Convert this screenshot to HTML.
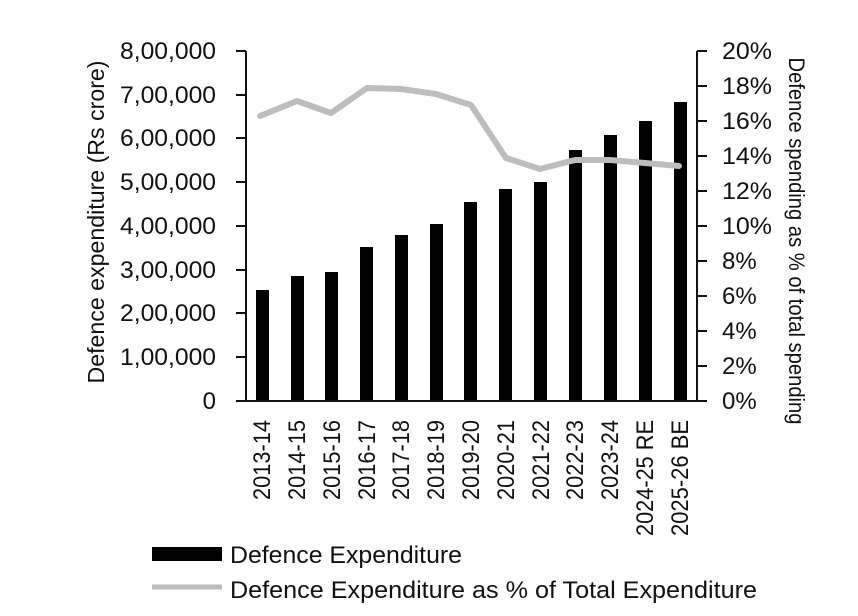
<!DOCTYPE html>
<html><head><meta charset="utf-8"><style>
html,body{margin:0;padding:0;background:#fff;}
svg{display:block;font-family:"Liberation Sans",Arial,sans-serif;fill:#111;}
</style></head><body>
<svg width="858" height="616" viewBox="0 0 858 616" xmlns="http://www.w3.org/2000/svg">
<rect width="858" height="616" fill="#fff"/>
<g fill="#000">
<rect x="256" y="290" width="13" height="111"/>
<rect x="291" y="276" width="13" height="125"/>
<rect x="325" y="272" width="13" height="129"/>
<rect x="360" y="247" width="13" height="154"/>
<rect x="395" y="235" width="13" height="166"/>
<rect x="430" y="224" width="13" height="177"/>
<rect x="464" y="202" width="13" height="199"/>
<rect x="499" y="189" width="13" height="212"/>
<rect x="534" y="182" width="13" height="219"/>
<rect x="569" y="150" width="13" height="251"/>
<rect x="604" y="135" width="13" height="266"/>
<rect x="639" y="121" width="13" height="280"/>
<rect x="674" y="102" width="13" height="299"/>
</g>
<polyline fill="none" stroke="#bdbdbd" stroke-width="6" stroke-linejoin="round" stroke-linecap="round"
points="260,116 297,101 331,113 367,88 401,89 436,94 471,105 506,158 540,169 575,160 610,160 645,163 679,166"/>
<g stroke="#111" stroke-width="2" fill="none">
<path d="M246,51V401H697V51"/>
<path d="M236,51H246M236,95H246M236,138H246M236,182H246M236,226H246M236,270H246M236,313H246M236,357H246M236,401H246"/>
<path d="M697,51H707M697,86H707M697,121H707M697,156H707M697,191H707M697,226H707M697,261H707M697,296H707M697,331H707M697,366H707M697,401H707"/>
</g>
<g font-size="24" text-anchor="end">
<text x="216" y="59" textLength="96" lengthAdjust="spacingAndGlyphs">8,00,000</text>
<text x="216" y="103" textLength="96" lengthAdjust="spacingAndGlyphs">7,00,000</text>
<text x="216" y="146" textLength="96" lengthAdjust="spacingAndGlyphs">6,00,000</text>
<text x="216" y="190" textLength="96" lengthAdjust="spacingAndGlyphs">5,00,000</text>
<text x="216" y="234" textLength="96" lengthAdjust="spacingAndGlyphs">4,00,000</text>
<text x="216" y="278" textLength="96" lengthAdjust="spacingAndGlyphs">3,00,000</text>
<text x="216" y="321" textLength="96" lengthAdjust="spacingAndGlyphs">2,00,000</text>
<text x="216" y="365" textLength="96" lengthAdjust="spacingAndGlyphs">1,00,000</text>
<text x="216" y="409">0</text>
</g>
<g font-size="24">
<text x="722" y="59" textLength="50" lengthAdjust="spacingAndGlyphs">20%</text><text x="722" y="94" textLength="50" lengthAdjust="spacingAndGlyphs">18%</text><text x="722" y="129" textLength="50" lengthAdjust="spacingAndGlyphs">16%</text>
<text x="722" y="164" textLength="50" lengthAdjust="spacingAndGlyphs">14%</text><text x="722" y="199" textLength="50" lengthAdjust="spacingAndGlyphs">12%</text><text x="722" y="234" textLength="50" lengthAdjust="spacingAndGlyphs">10%</text>
<text x="722" y="269">8%</text><text x="722" y="304">6%</text><text x="722" y="339">4%</text>
<text x="722" y="374">2%</text><text x="722" y="409">0%</text>
</g>
<text font-size="23" text-anchor="middle" transform="translate(104,222) rotate(-90)" textLength="323" lengthAdjust="spacingAndGlyphs">Defence expenditure (Rs crore)</text>
<text font-size="22" text-anchor="middle" transform="translate(789,241) rotate(90)" textLength="367" lengthAdjust="spacingAndGlyphs">Defence spending as % of total spending</text>
<g font-size="24" text-anchor="end">
<text transform="translate(270,420) rotate(-90)" textLength="80" lengthAdjust="spacingAndGlyphs">2013-14</text>
<text transform="translate(305,420) rotate(-90)" textLength="80" lengthAdjust="spacingAndGlyphs">2014-15</text>
<text transform="translate(340,420) rotate(-90)" textLength="80" lengthAdjust="spacingAndGlyphs">2015-16</text>
<text transform="translate(375,420) rotate(-90)" textLength="80" lengthAdjust="spacingAndGlyphs">2016-17</text>
<text transform="translate(409,420) rotate(-90)" textLength="80" lengthAdjust="spacingAndGlyphs">2017-18</text>
<text transform="translate(444,420) rotate(-90)" textLength="80" lengthAdjust="spacingAndGlyphs">2018-19</text>
<text transform="translate(479,420) rotate(-90)" textLength="80" lengthAdjust="spacingAndGlyphs">2019-20</text>
<text transform="translate(514,420) rotate(-90)" textLength="80" lengthAdjust="spacingAndGlyphs">2020-21</text>
<text transform="translate(549,420) rotate(-90)" textLength="80" lengthAdjust="spacingAndGlyphs">2021-22</text>
<text transform="translate(583,420) rotate(-90)" textLength="80" lengthAdjust="spacingAndGlyphs">2022-23</text>
<text transform="translate(618,420) rotate(-90)" textLength="80" lengthAdjust="spacingAndGlyphs">2023-24</text>
<text transform="translate(653,420) rotate(-90)" textLength="116" lengthAdjust="spacingAndGlyphs">2024-25 RE</text>
<text transform="translate(688,420) rotate(-90)" textLength="116" lengthAdjust="spacingAndGlyphs">2025-26 BE</text>
</g>
<rect x="152" y="547" width="70" height="14" fill="#000"/>
<text x="230" y="563" font-size="24" textLength="232" lengthAdjust="spacingAndGlyphs">Defence Expenditure</text>
<line x1="152" y1="587" x2="222" y2="587" stroke="#bdbdbd" stroke-width="5"/>
<text x="230" y="598" font-size="24" textLength="527" lengthAdjust="spacingAndGlyphs">Defence Expenditure as % of Total Expenditure</text>
</svg>
</body></html>
